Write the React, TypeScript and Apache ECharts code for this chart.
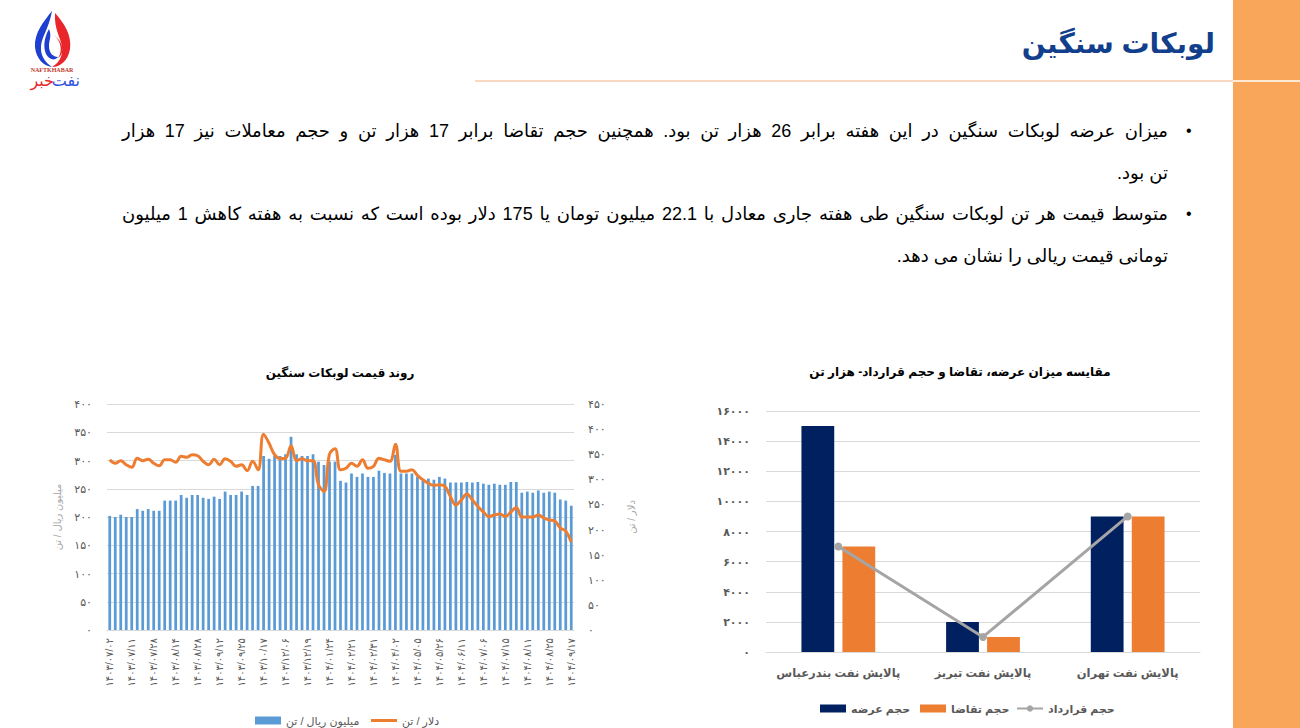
import React, { useEffect, useRef } from "react";
import * as echarts from "echarts";

const FONT = "'Liberation Sans', Arial, 'DejaVu Sans', sans-serif";

// ---------- Left chart data ----------
const tickLabels = [
  "1403/07/02", "1403/07/11", "1403/07/28", "1403/08/14", "1403/08/28", "1403/09/12",
  "1403/09/25", "1403/10/17", "1403/12/06", "1403/12/19", "1404/01/24", "1404/02/21",
  "1404/02/31", "1404/04/02", "1404/05/05", "1404/05/26", "1404/06/11", "1404/07/06",
  "1404/07/15", "1404/08/11", "1404/08/25", "1404/09/17",
];

const rialPerTon = [
  202, 200, 204, 200, 200, 214, 211, 214, 211, 211,
  229, 229, 229, 239, 234, 239, 239, 234, 232, 236,
  232, 245, 239, 239, 245, 239, 255, 255, 308, 303,
  308, 308, 311, 342, 311, 308, 308, 311, 298, 292,
  298, 298, 264, 261, 277, 271, 277, 271, 271, 282,
  278, 277, 310, 277, 277, 277, 271, 264, 268, 266,
  271, 268, 261, 261, 261, 262, 261, 262, 259, 257,
  259, 257, 257, 262, 262, 243, 245, 243, 247, 243,
  245, 243, 231, 229, 220,
];

const dollarPerTon = [
  339, 332, 337, 329, 324, 342, 337, 340, 332, 327,
  339, 339, 334, 346, 344, 349, 347, 336, 329, 340,
  329, 341, 336, 326, 329, 317, 336, 319, 390, 372,
  349, 341, 342, 367, 337, 341, 337, 337, 289, 276,
  350, 361, 319, 322, 332, 326, 339, 322, 326, 342,
  339, 336, 370, 316, 316, 319, 308, 299, 292, 288,
  289, 286, 266, 249, 259, 271, 259, 246, 235, 226,
  229, 231, 226, 235, 244, 225, 225, 225, 229, 223,
  219, 217, 203, 197, 175,
];

// one category per bar; every fourth carries a date label
const dateCategories = rialPerTon.map((_, i) => (i % 4 === 0 ? tickLabels[i / 4] || "" : ""));

// ---------- Right chart data ----------
const refineries = ["پالایش نفت بندرعباس", "پالایش نفت تبریز", "پالایش نفت تهران"];
const supplyVolume = [15000, 2000, 9000];
const demandVolume = [7000, 1000, 9000];
const contractVolume = [7000, 1000, 9000];

const fa = (v: any) => String(v).replace(/[0-9]/g, (d) => "۰۱۲۳۴۵۶۷۸۹"[+d]);

// ---------- Logo shapes ----------
echarts.graphic.registerShape(
  "flameBlue",
  echarts.graphic.extendPath(
    "M20 0 C12 10 2 22 3 36 C4 48 12 55 20 56 C14 52 8 45 9 35 C10 25 17 17 20 0 Z",
    {}
  )
);
echarts.graphic.registerShape(
  "flameRed",
  echarts.graphic.extendPath(
    "M23 2 C32 12 40 24 38 38 C36 50 28 56 20 56 C27 52 31 45 30 36 C29 27 22 19 23 2 Z",
    {}
  )
);
echarts.graphic.registerShape(
  "innerBlue",
  echarts.graphic.extendPath(
    "M17 18 C12 27 11 36 14 43 C17 49 23 50 26 46 C21 46 17 42 17 35 C17 29 20 25 17 18 Z",
    {}
  )
);
echarts.graphic.registerShape(
  "innerRed",
  echarts.graphic.extendPath(
    "M22 24 C29 30 31 40 26 47 C32 43 33 33 22 24 Z",
    {}
  )
);

const bulletLines = [
  { y: 131, full: true, bullet: true, text: "میزان عرضه لوبکات سنگین در این هفته برابر 26 هزار تن بود. همچنین حجم تقاضا برابر 17 هزار تن و حجم معاملات نیز  17 هزار" },
  { y: 173, full: false, bullet: false, text: "تن بود." },
  { y: 214, full: true, bullet: true, text: "متوسط قیمت هر تن لوبکات سنگین طی هفته جاری معادل با 22.1 میلیون تومان یا 175 دلار بوده است که نسبت به هفته کاهش 1 میلیون" },
  { y: 256, full: false, bullet: false, text: "تومانی قیمت ریالی را نشان می دهد." },
];

const LINE_ICON = "path://M0,0 M26,8 M0,2.5 L26,2.5 L26,5.5 L0,5.5 Z";

export default function App() {
  const ref = useRef<HTMLDivElement>(null);

  useEffect(() => {
    if (!ref.current) return;
    const chart = echarts.init(ref.current, undefined, { renderer: "svg" });
    const axisLabelColor = "#595959";
    const gridColor = "#D9D9D9";

    const mkLegend = (left: number, top: number, name: string, icon: string | undefined, bold: boolean, size: number) => ({
      left,
      top,
      itemWidth: 26,
      itemHeight: 8,
      itemGap: 0,
      textStyle: { fontSize: size, fontWeight: bold ? "bold" : "normal", color: axisLabelColor, fontFamily: FONT },
      data: [icon ? { name, icon } : { name }],
    });

    const option: any = {
      animation: false,
      textStyle: { fontFamily: FONT },
      grid: [
        { left: 107, top: 404, width: 467, height: 226 },
        { left: 766, top: 411, width: 434, height: 241 },
      ],
      xAxis: [
        {
          type: "category",
          gridIndex: 0,
          data: dateCategories,
          axisLine: { lineStyle: { color: gridColor } },
          axisTick: { show: false },
          axisLabel: {
            interval: 0,
            rotate: 90,
            fontSize: 10,
            color: axisLabelColor,
            margin: 8,
            formatter: (v: string) => fa(v),
          },
        },
        {
          type: "category",
          gridIndex: 1,
          data: refineries,
          axisLine: { lineStyle: { color: gridColor } },
          axisTick: { show: false },
          axisLabel: { interval: 0, fontSize: 11.5, fontWeight: "bold", color: axisLabelColor, margin: 15, hideOverlap: false },
        },
      ],
      yAxis: [
        {
          type: "value",
          gridIndex: 0,
          position: "left",
          min: 0,
          max: 400,
          interval: 50,
          axisLine: { show: false },
          axisTick: { show: false },
          axisLabel: { color: axisLabelColor, fontSize: 11, margin: 15, formatter: (v: number) => fa(v) },
          splitLine: { lineStyle: { color: gridColor } },
          name: "میلیون ریال / تن",
          nameLocation: "middle",
          nameGap: 45,
          nameRotate: 90,
          nameTextStyle: { color: "#A6A6A6", fontSize: 10 },
        },
        {
          type: "value",
          gridIndex: 0,
          position: "right",
          min: 0,
          max: 450,
          interval: 50,
          axisLine: { show: false },
          axisTick: { show: false },
          axisLabel: { color: axisLabelColor, fontSize: 11, margin: 14, formatter: (v: number) => fa(v) },
          splitLine: { show: false },
          name: "دلار / تن",
          nameLocation: "middle",
          nameGap: 52,
          nameRotate: 90,
          nameTextStyle: { color: "#A6A6A6", fontSize: 10 },
        },
        {
          type: "value",
          gridIndex: 1,
          min: 0,
          max: 16000,
          interval: 2000,
          axisLine: { show: false },
          axisTick: { show: false },
          axisLabel: { color: axisLabelColor, fontSize: 11, fontWeight: "bold", margin: 16, formatter: (v: number) => fa(v) },
          splitLine: { lineStyle: { color: gridColor } },
        },
      ],
      legend: [
        mkLegend(250, 710, "میلیون ریال / تن", "rect", false, 11),
        mkLegend(366, 710, "دلار / تن", LINE_ICON, false, 11),
        mkLegend(815, 698, "حجم عرضه", "rect", true, 11),
        mkLegend(915, 698, "حجم تقاضا", "rect", true, 11),
        mkLegend(1011, 698, "حجم قرارداد", undefined, true, 11),
      ],
      series: [
        {
          name: "میلیون ریال / تن",
          type: "bar",
          xAxisIndex: 0,
          yAxisIndex: 0,
          data: rialPerTon,
          barCategoryGap: "50%",
          itemStyle: { color: "#5B9BD5" },
        },
        {
          name: "دلار / تن",
          type: "line",
          xAxisIndex: 0,
          yAxisIndex: 1,
          data: dollarPerTon,
          smooth: 0.4,
          symbol: "none",
          lineStyle: { width: 3, color: "#ED7D31" },
          itemStyle: { color: "#ED7D31" },
        },
        {
          name: "حجم عرضه",
          type: "bar",
          xAxisIndex: 1,
          yAxisIndex: 2,
          data: supplyVolume,
          barCategoryGap: "49%",
          barGap: "25%",
          itemStyle: { color: "#002060" },
        },
        {
          name: "حجم تقاضا",
          type: "bar",
          xAxisIndex: 1,
          yAxisIndex: 2,
          data: demandVolume,
          barCategoryGap: "49%",
          barGap: "25%",
          itemStyle: { color: "#ED7D31" },
        },
        {
          name: "حجم قرارداد",
          type: "line",
          xAxisIndex: 1,
          yAxisIndex: 2,
          data: contractVolume,
          symbol: "circle",
          symbolSize: 8,
          lineStyle: { width: 3, color: "#A5A5A5" },
          itemStyle: { color: "#A5A5A5" },
          z: 5,
        },
      ],
      graphic: [
        { type: "rect", silent: true, shape: { x: 1233, y: 0, width: 67, height: 728 }, style: { fill: "#F9A65A" } },
        { type: "line", silent: true, shape: { x1: 475, y1: 81, x2: 1233, y2: 81 }, style: { stroke: "#F4B183", lineWidth: 1 } },
        { type: "line", silent: true, shape: { x1: 1233, y1: 81, x2: 1300, y2: 81 }, style: { stroke: "#FFFFFF", lineWidth: 1.5 } },
        {
          type: "text",
          silent: true,
          x: 1215,
          y: 43,
          style: {
            text: "لوبکات سنگین",
            font: `bold 28px ${FONT}`,
            fill: "#123F8C",
            textAlign: "right",
            textVerticalAlign: "middle",
          },
        },
        {
          type: "text",
          silent: true,
          x: 340,
          y: 373,
          style: {
            text: "روند قیمت لوبکات سنگین",
            font: `bold 12px ${FONT}`,
            fill: "#000000",
            textAlign: "center",
            textVerticalAlign: "middle",
          },
        },
        {
          type: "text",
          silent: true,
          x: 960,
          y: 372,
          style: {
            text: "مقایسه میزان عرضه، تقاضا و حجم قرارداد- هزار تن",
            font: `bold 12px ${FONT}`,
            fill: "#000000",
            textAlign: "center",
            textVerticalAlign: "middle",
          },
        },
        // logo
        { type: "flameBlue", silent: true, x: 32, y: 11, style: { fill: "#1E3FD0" } },
        { type: "flameRed", silent: true, x: 32, y: 11, style: { fill: "#E8262B" } },
        { type: "innerBlue", silent: true, x: 32, y: 11, style: { fill: "#1E3FD0" } },
        { type: "innerRed", silent: true, x: 32, y: 11, style: { fill: "#E8262B" } },
        {
          type: "text",
          silent: true,
          x: 52,
          y: 70,
          style: {
            text: "NAFTKHABAR",
            font: `bold 6px 'Liberation Serif', serif`,
            fill: "#C0392B",
            textAlign: "center",
            textVerticalAlign: "middle",
          },
        },
        {
          type: "text",
          silent: true,
          x: 80,
          y: 80,
          style: {
            text: "نفت",
            font: `16px ${FONT}`,
            fill: "#3050E0",
            textAlign: "right",
            textVerticalAlign: "middle",
          },
        },
        {
          type: "text",
          silent: true,
          x: 54,
          y: 80,
          style: {
            text: "خبر",
            font: `16px ${FONT}`,
            fill: "#E8262B",
            textAlign: "right",
            textVerticalAlign: "middle",
          },
        },
      ],
    };

    chart.setOption(option);
    return () => chart.dispose();
  }, []);

  return (
    <div
      style={{
        position: "fixed",
        left: 0,
        top: 0,
        width: 1300,
        height: 728,
        background: "#FFFFFF",
        overflow: "hidden",
      }}
    >
      <div ref={ref} style={{ position: "absolute", left: 0, top: 0, width: 1300, height: 728 }} />
      {bulletLines.map((l, i) => (
        <React.Fragment key={i}>
          {l.bullet && (
            <div
              style={{
                position: "absolute",
                left: 1186,
                top: l.y - 13,
                height: 26,
                lineHeight: "26px",
                fontSize: 16,
                fontFamily: FONT,
                color: "#000",
              }}
            >
              •
            </div>
          )}
          <div
            dir="rtl"
            style={{
              position: "absolute",
              left: 122,
              width: 1046,
              top: l.y - 13,
              height: 26,
              lineHeight: "26px",
              fontSize: 18,
              fontFamily: FONT,
              color: "#000",
              textAlign: l.full ? "justify" : "right",
              textAlignLast: l.full ? "justify" : "right",
            }}
          >
            {l.text}
          </div>
        </React.Fragment>
      ))}
    </div>
  );
}
